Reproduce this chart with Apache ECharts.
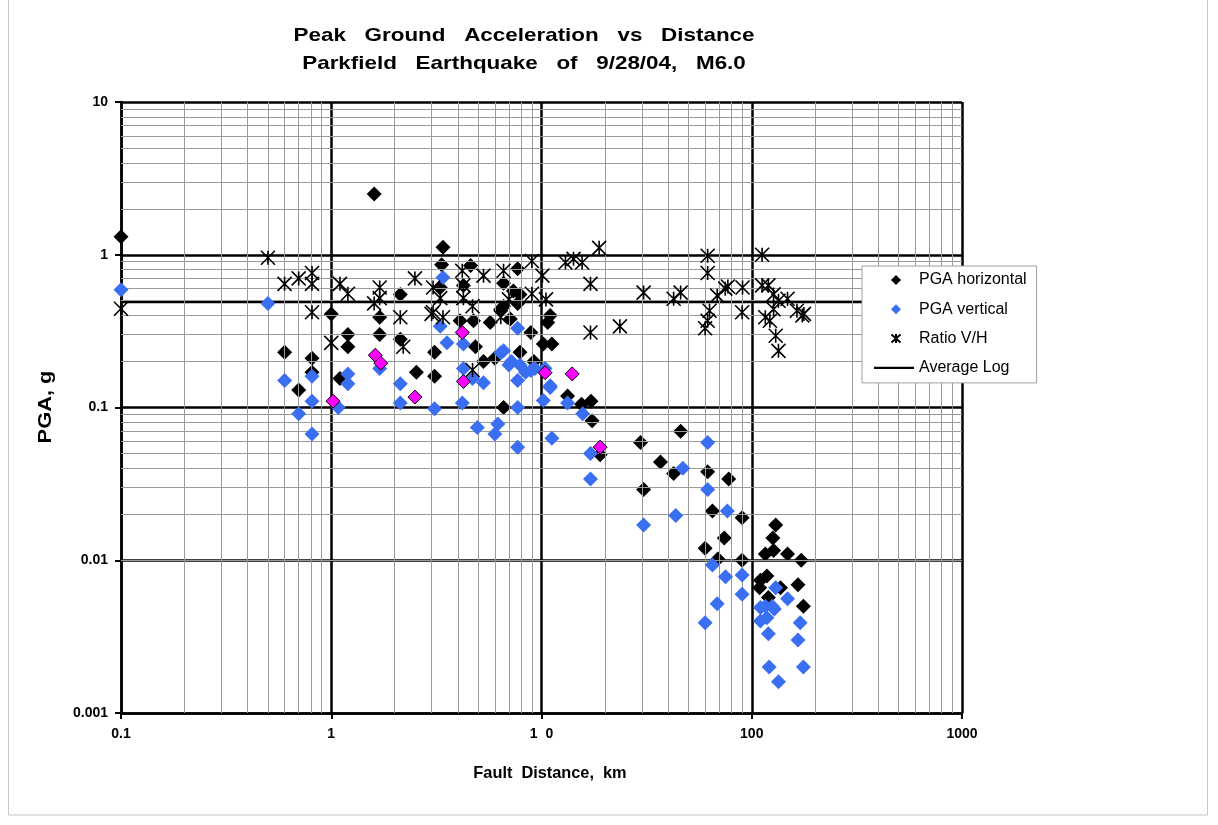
<!DOCTYPE html>
<html>
<head>
<meta charset="utf-8">
<script src="https://cdn.jsdelivr.net/npm/echarts@6/dist/echarts.min.js"></script>
<style>
  html, body { margin: 0; padding: 0; background: #fff; }
  #chart { width: 1218px; height: 825px; }
</style>
</head>
<body>
<div id="chart"></div>
<script>
// Parkfield M6.0 (2004-09-28): peak ground acceleration against fault distance.
// Each point is [fault distance in km, PGA in g].

const xTickLabels = ['0.1', '1', '1  0', '100', '1000'];
const yTickLabels = ['0.001', '0.01', '0.1', '1', '10'];

const pgaHorizontal = [
  [0.1, 1.31], [1.6, 2.5], [0.6, 0.23], [0.7, 0.13], [0.81, 0.21], [0.81, 0.17],
  [1.0, 0.41], [1.1, 0.155], [1.2, 0.30], [1.2, 0.25], [1.7, 0.39], [1.7, 0.30],
  [2.13, 0.55], [2.13, 0.28], [2.54, 0.17], [3.1, 0.16], [3.1, 0.23], [3.4, 1.12],
  [3.35, 0.86], [3.3, 0.61], [4.6, 0.85], [7.7, 0.81], [4.25, 0.63], [4.1, 0.37],
  [4.75, 0.37], [4.85, 0.25], [5.3, 0.2], [6.0, 0.21], [5.7, 0.36], [6.6, 0.65],
  [7.35, 0.58], [7.9, 0.55], [6.6, 0.46], [7.7, 0.48], [6.4, 0.44], [7.1, 0.38],
  [8.9, 0.31], [10.7, 0.36], [11.0, 0.40], [11.2, 0.26], [10.2, 0.26], [7.9, 0.23],
  [9.2, 0.2], [6.6, 0.1],
  [13.3, 0.119], [15.5, 0.105], [17.2, 0.11], [17.4, 0.082], [29.6, 0.059], [45.9, 0.070],
  [36.8, 0.044], [19, 0.049], [42.5, 0.037], [30.6, 0.029], [61.7, 0.038], [77.7, 0.034],
  [65, 0.021], [90, 0.019], [74, 0.014], [60, 0.012], [69, 0.0102], [90, 0.010],
  [130, 0.017], [126, 0.014], [127, 0.0116], [116, 0.011], [148, 0.011], [172, 0.010],
  [118, 0.0079], [109, 0.0066], [137, 0.0066], [166, 0.0069], [110, 0.0074], [176, 0.005],
  [120, 0.0057]
];

const pgaVertical = [
  [0.1, 0.59], [0.5, 0.48], [0.6, 0.15], [0.81, 0.16], [0.81, 0.11], [0.7, 0.091],
  [0.81, 0.067], [1.08, 0.1], [1.2, 0.166], [1.2, 0.143], [1.7, 0.18], [2.13, 0.143],
  [2.13, 0.107], [3.1, 0.098], [4.2, 0.107], [4.95, 0.074], [6.2, 0.078], [6.0, 0.067],
  [7.7, 0.055], [7.7, 0.1], [10.2, 0.111], [11.2, 0.063], [11.0, 0.139], [5.3, 0.145],
  [6.6, 0.235], [7.2, 0.2], [7.7, 0.15], [8.9, 0.175], [3.4, 0.71], [3.3, 0.34],
  [3.55, 0.265], [4.25, 0.26], [6.4, 0.228], [7.7, 0.33], [7.0, 0.19], [7.9, 0.19],
  [8.4, 0.17], [9.3, 0.18], [10.4, 0.18], [11, 0.135], [4.25, 0.18], [4.7, 0.155],
  [13.3, 0.107], [15.7, 0.091], [17.1, 0.05], [61.7, 0.059], [17.1, 0.034], [47, 0.04],
  [61.7, 0.029], [30.6, 0.017], [43.5, 0.0196], [76.5, 0.021], [65, 0.0093], [75, 0.0078],
  [90, 0.008], [90, 0.006], [68.5, 0.0052], [60, 0.0039], [130, 0.0066], [148, 0.0056],
  [170, 0.0039], [166, 0.003], [176, 0.002], [121, 0.002], [134, 0.0016], [120, 0.0033],
  [110, 0.004], [118, 0.0042], [110, 0.0049], [116, 0.005], [125, 0.005], [128, 0.0048]
];

const pgaVerticalMarked = [
  [1.02, 0.11], [1.62, 0.22], [1.72, 0.195], [2.5, 0.117], [4.2, 0.31],
  [4.25, 0.148], [10.4, 0.169], [14.0, 0.166], [19, 0.055]
];

const ratioVH = [
  [0.1, 0.443], [0.5, 0.955], [0.6, 0.645], [0.7, 0.70], [0.81, 0.76], [0.81, 0.645],
  [0.81, 0.42], [1.0, 0.265], [1.1, 0.645], [1.2, 0.555], [1.7, 0.61], [1.7, 0.52],
  [1.6, 0.48], [2.13, 0.39], [2.2, 0.25], [2.5, 0.70], [3.05, 0.61], [3.05, 0.42],
  [3.3, 0.52], [4.2, 0.785], [4.25, 0.63], [4.25, 0.52], [4.7, 0.46], [5.3, 0.73],
  [6.6, 0.785], [9.0, 0.91], [10.1, 0.73], [9.0, 0.555], [7.0, 0.51], [10.5, 0.51],
  [6.4, 0.39], [3.4, 0.39], [3.0, 0.41], [4.7, 0.176], [13, 0.89], [14.2, 0.94],
  [15.6, 0.89], [18.8, 1.11], [17.1, 0.645], [30.6, 0.565], [42.5, 0.515], [45.9, 0.565],
  [61.7, 0.985], [61.7, 0.76], [68.5, 0.54], [74.8, 0.60], [90.4, 0.61], [77, 0.62],
  [112, 1.0], [112, 0.63], [120, 0.63], [127, 0.55], [148, 0.515], [134, 0.5],
  [164, 0.43], [174, 0.40], [177, 0.41], [90, 0.42], [63, 0.43], [61.7, 0.37],
  [60, 0.33], [116, 0.39], [127, 0.44], [17.1, 0.31], [23.6, 0.34], [130, 0.295],
  [134, 0.235], [122, 0.37]
];

const averageLog = [[0.1, 0.49], [1000, 0.49]];

// minor log grid: 2..9 within each decade
const xDecades = [0.1, 1, 10, 100];
const yDecades = [0.001, 0.01, 0.1, 1];
const minorSteps = [2, 3, 4, 5, 6, 7, 8, 9];

const FONT = "'Liberation Sans', Arial, Helvetica, sans-serif";
const starPath = 'path://M0,0L12,12M12,0L0,12M6,0L6,12';

// legend icons laid out in a 40x10 box (the zero-length corner moves fix the box size)
const legendDiamond = 'path://M0,0L0,0M40,10L40,10M22,0L27,5L22,10L17,5Z';
const legendStar = 'path://M0,0L0,0M40,10L40,10M17.5,1L26.5,9M26.5,1L17.5,9M22,0.5L22,9.5';
const legendLine = 'path://M0,0L0,0M40,10L40,10M0,3.8L40,3.8L40,6.2L0,6.2Z';

const minorLines = [];
xDecades.forEach(d => minorSteps.forEach(m => minorLines.push({ xAxis: +(d * m).toPrecision(3) })));
yDecades.forEach(d => minorSteps.forEach(m => minorLines.push({ yAxis: +(d * m).toPrecision(3) })));

const decadeIndex = v => Math.round(Math.log10(v));

const chart = echarts.init(document.getElementById('chart'), null, { renderer: 'canvas' });

chart.setOption({
  backgroundColor: '#fff',
  animation: false,
  textStyle: { fontFamily: FONT },
  grid: { left: 121, top: 102, right: 256, bottom: 112, containLabel: false },
  graphic: [
    {
      type: 'rect', silent: true, z: -10,
      shape: { x: 8.5, y: -2, width: 1199, height: 817 },
      style: { fill: 'none', stroke: '#c8c8c8', lineWidth: 1 }
    },
    {
      type: 'text', x: 524, y: 35.5, scaleX: 1.18, z: 10,
      style: {
        text: 'Peak   Ground   Acceleration   vs   Distance',
        font: 'bold 19px ' + FONT, fill: '#000',
        align: 'center', verticalAlign: 'middle', textAlign: 'center', textVerticalAlign: 'middle'
      }
    },
    {
      type: 'text', x: 524, y: 63.5, scaleX: 1.18, z: 10,
      style: {
        text: 'Parkfield   Earthquake   of   9/28/04,   M6.0',
        font: 'bold 19px ' + FONT, fill: '#000',
        align: 'center', verticalAlign: 'middle', textAlign: 'center', textVerticalAlign: 'middle'
      }
    },
    {
      type: 'text', x: 550, y: 773, scaleX: 0.96, z: 10,
      style: {
        text: 'Fault  Distance,  km',
        font: 'bold 17px ' + FONT, fill: '#000',
        align: 'center', verticalAlign: 'middle', textAlign: 'center', textVerticalAlign: 'middle'
      }
    },
    {
      type: 'text', x: 46, y: 407, rotation: Math.PI / 2, scaleX: 1.15, z: 10,
      style: {
        text: 'PGA, g',
        font: 'bold 19px ' + FONT, fill: '#000',
        align: 'center', verticalAlign: 'middle', textAlign: 'center', textVerticalAlign: 'middle'
      }
    }
  ],
  legend: {
    orient: 'vertical',
    left: 862, top: 266,
    z: 10,
    backgroundColor: '#fff',
    borderColor: '#a0a0a0', borderWidth: 1,
    padding: [6, 10, 7, 11],
    itemWidth: 40, itemHeight: 10, itemGap: 13.3,
    textStyle: { fontFamily: FONT, fontSize: 16, color: '#000' },
    data: [
      { name: 'PGA horizontal', icon: legendDiamond },
      { name: 'PGA vertical', icon: legendDiamond },
      { name: 'Ratio V/H', icon: legendStar },
      { name: 'Average Log', icon: legendLine }
    ]
  },
  xAxis: {
    type: 'log', logBase: 10, min: 0.1, max: 1000, z: 2,
    axisLine: { show: true, onZero: false, lineStyle: { color: '#000', width: 2.5 } },
    axisTick: { show: true, length: 6, lineStyle: { color: '#000', width: 2 } },
    axisLabel: {
      color: '#000', fontWeight: 'bold', fontSize: 14, margin: 14, fontFamily: FONT,
      formatter: v => xTickLabels[decadeIndex(v) + 1]
    },
    splitLine: { show: true, lineStyle: { color: '#000', width: 2.5 } }
  },
  yAxis: {
    type: 'log', logBase: 10, min: 0.001, max: 10, z: 2,
    axisLine: { show: true, onZero: false, lineStyle: { color: '#000', width: 2.5 } },
    axisTick: { show: true, length: 6, lineStyle: { color: '#000', width: 2 } },
    axisLabel: {
      color: '#000', fontWeight: 'bold', fontSize: 14, margin: 13, fontFamily: FONT,
      formatter: v => yTickLabels[decadeIndex(v) + 3]
    },
    splitLine: { show: true, lineStyle: { color: '#000', width: 2.5 } }
  },
  series: [
    {
      name: 'minor grid', type: 'scatter', data: [], z: 1, silent: true,
      markLine: {
        silent: true, symbol: ['none', 'none'], animation: false,
        label: { show: false },
        lineStyle: { color: '#9a9a9a', width: 1, type: 'solid' },
        emphasis: { disabled: true },
        data: minorLines
      }
    },
    {
      name: 'Average Log', type: 'line', data: averageLog, z: 3,
      symbol: 'none', silent: true,
      lineStyle: { color: '#000', width: 2.5 },
      itemStyle: { color: '#000' }
    },
    {
      name: 'PGA horizontal', type: 'scatter', data: pgaHorizontal, z: 4,
      symbol: 'diamond', symbolSize: 15,
      itemStyle: { color: '#000', opacity: 1 }
    },
    {
      name: 'PGA vertical', type: 'scatter', data: pgaVertical, z: 5,
      symbol: 'diamond', symbolSize: 15,
      itemStyle: { color: '#3a6ff2', opacity: 1 }
    },
    {
      name: 'PGA vertical (marked)', type: 'scatter', data: pgaVerticalMarked, z: 6,
      symbol: 'diamond', symbolSize: 14,
      itemStyle: { color: '#ff00ff', borderColor: '#000', borderWidth: 1, opacity: 1 }
    },
    {
      name: 'Ratio V/H', type: 'scatter', data: ratioVH, z: 7,
      symbol: starPath, symbolSize: 14,
      itemStyle: { color: 'rgba(0,0,0,0)', borderColor: '#000', borderWidth: 1.6, opacity: 1 }
    }
  ]
});
</script>
</body>
</html>
